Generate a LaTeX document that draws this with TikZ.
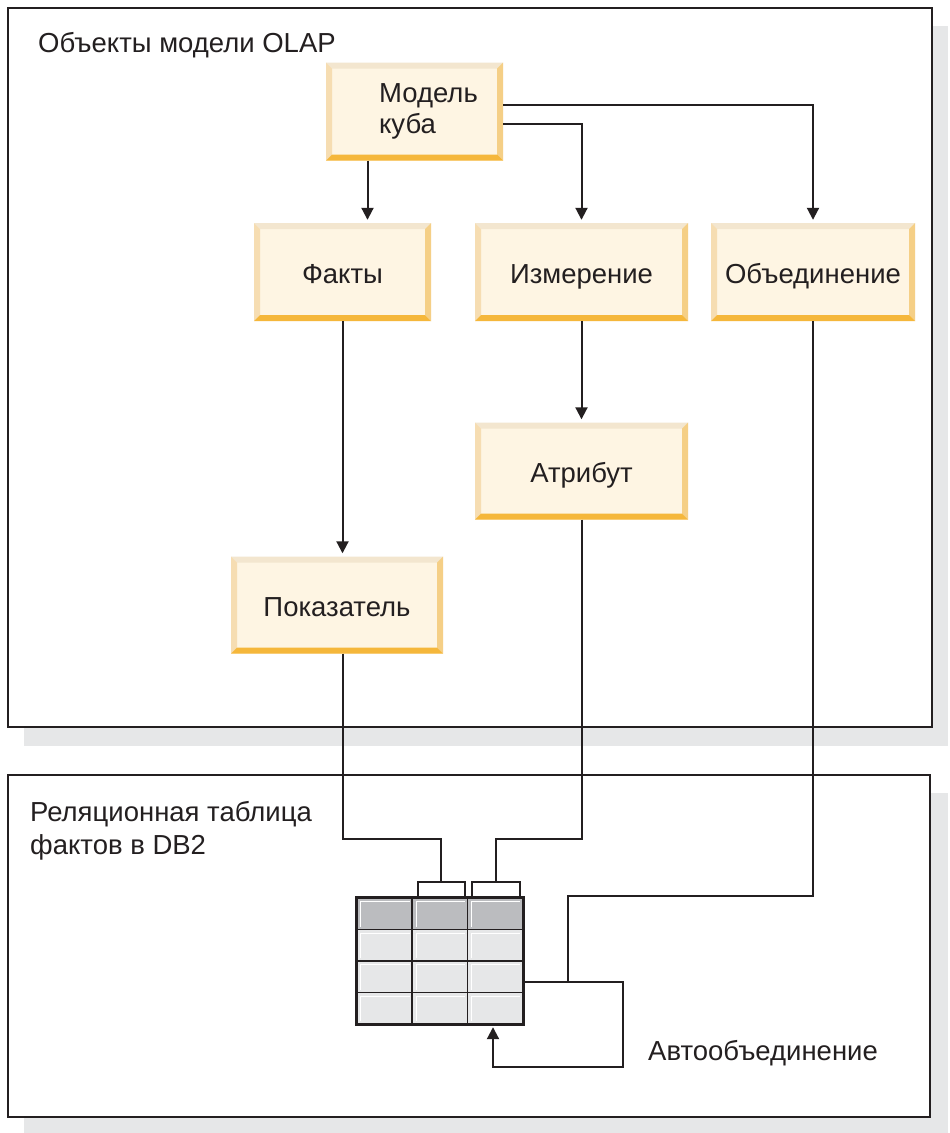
\documentclass[tikz,border=0pt]{standalone}
\usepackage{fontspec}
\setmainfont{Liberation Sans}
\usetikzlibrary{arrows.meta, calc}

\definecolor{boxfill}{HTML}{FEF5E3}
\definecolor{bevtop}{HTML}{F3E6CF}
\definecolor{bevleft}{HTML}{F6DDB2}
\definecolor{bevright}{HTML}{F5CF86}
\definecolor{bevbottom}{HTML}{F5B73B}
\definecolor{shadegray}{HTML}{E6E7E8}
\definecolor{headgray}{HTML}{BBBCBF}
\definecolor{linegray}{HTML}{231F20}

\tikzset{
    conceptbox/.style={draw=none, fill=boxfill, minimum height=98pt, inner sep=0pt,
        font=\fontsize{27.5}{31}\selectfont, text=linegray,
        path picture={
            \fill[bevtop] (path picture bounding box.north west) -- (path picture bounding box.north east)
                -- ([shift={(-6pt,-6pt)}]path picture bounding box.north east) -- ([shift={(6pt,-6pt)}]path picture bounding box.north west) -- cycle;
            \fill[bevleft] (path picture bounding box.north west) -- ([shift={(6pt,-6pt)}]path picture bounding box.north west)
                -- ([shift={(6pt,6pt)}]path picture bounding box.south west) -- (path picture bounding box.south west) -- cycle;
            \fill[bevright] (path picture bounding box.north east) -- ([shift={(-6pt,-6pt)}]path picture bounding box.north east)
                -- ([shift={(-6pt,6pt)}]path picture bounding box.south east) -- (path picture bounding box.south east) -- cycle;
            \fill[bevbottom] (path picture bounding box.south west) -- (path picture bounding box.south east)
                -- ([shift={(-6pt,6pt)}]path picture bounding box.south east) -- ([shift={(6pt,6pt)}]path picture bounding box.south west) -- cycle;
        }},
    oneline/.style={conceptbox, text height=27.7pt, text depth=4pt},
    frame/.style={draw=linegray, line width=1.4pt, fill=white},
    shade/.style={fill=shadegray},
    conn/.style={draw=linegray, line width=2pt},
    arr/.style={conn, -{Triangle[length=12pt,width=12pt]}, shorten >=3pt},
    caption/.style={font=\fontsize{27.5}{33}\selectfont, text=linegray, inner sep=0pt}
}

\begin{document}
\begin{tikzpicture}[x=1pt, y=-1pt]
    \useasboundingbox (0,0) rectangle (950,1133);

    % frames with their shadows
    \fill[shade] (24,26) rectangle (948,746);
    \draw[frame] (8,8) rectangle (932,727);
    \fill[shade] (24,793) rectangle (948,1133);
    \draw[frame] (8,775) rectangle (930,1117);

    \node[caption, anchor=west] (olap) at (38,45) {Объекты модели OLAP};
    \node[caption, anchor=north west, align=left] (rel) at (30,801) {Реляционная таблица\\фактов в DB2};
    \node[caption, anchor=west] (self) at (648,1053) {Автообъединение};

    % OLAP objects
    \node[conceptbox, minimum width=177pt, align=left] (model) at (414.5,111.5) {\hspace*{28pt}Модель\\\hspace*{28pt}куба};
    \node[oneline, minimum width=177pt] (fakty) at (342.5,272) {Факты};
    \node[oneline, minimum width=213pt] (izm) at (581.5,272) {Измерение};
    \node[oneline, minimum width=204pt] (obj) at (813,272) {Объединение};
    \node[oneline, minimum width=213pt, minimum height=97pt] (atr) at (581.5,471) {Атрибут};
    \node[oneline, minimum width=212pt, minimum height=97pt] (pok) at (337,605) {Показатель};

    % DB2 fact table
    \node[minimum width=166pt, minimum height=126pt, inner sep=0pt] (tbl) at (440,961) {};
    \foreach \c in {0,1,2} {
        \foreach \r in {0,1,2,3} {
            \ifnum\r=0 \def\cellcol{headgray}\else \def\cellcol{shadegray}\fi
            \fill[\cellcol] ($(tbl.north west)+(\c*55.33,\r*31.5)$) rectangle ++(55.33,31.5);
            \draw[white, line width=1.2pt] ($(tbl.north west)+(\c*55.33+4,\r*31.5+29)$) -- ++(0,-25) -- ++(49,0);
        }
    }
    \foreach \c in {1,2} \draw[linegray, line width=1.4pt] ($(tbl.north west)+(\c*55.33,0)$) -- ++(0,126);
    \foreach \r in {1,2,3} \draw[linegray, line width=1.4pt] ($(tbl.north west)+(0,\r*31.5)$) -- ++(166,0);
    \draw[linegray, line width=2.8pt] (tbl.north west) rectangle (tbl.south east);

    % column brackets
    \draw[conn] (418,896) -- (418,882) -- (465,882) -- (465,896);
    \draw[conn] (472,896) -- (472,882) -- (520,882) -- (520,896);
    \coordinate (br1) at (441,882);
    \coordinate (br2) at (496,882);
    \coordinate (jn3) at (568,982);

    % connectors
    \draw[arr] ([xshift=-47pt]model.south) -- ([xshift=-47pt]model.south |- fakty.north);
    \draw[arr] ([yshift=-12.5pt]model.east) -| (izm.north);
    \draw[arr] ([yshift=6.5pt]model.east) -| (obj.north);
    \draw[arr] (fakty.south) -- (fakty.south |- pok.north);
    \draw[arr] (izm.south) -- (atr.north);
    \draw[conn] (fakty.south |- pok.south) -- ++(0,185) -| (br1);
    \draw[conn] (atr.south) -- ++(0,319) -| (br2);
    \draw[conn] (obj.south) -- ++(0,575) -| (jn3);
    \draw[arr] (jn3 -| tbl.east) -- ++(100,0) -- ++(0,85) -| ([xshift=53pt]tbl.south);
\end{tikzpicture}
\end{document}
